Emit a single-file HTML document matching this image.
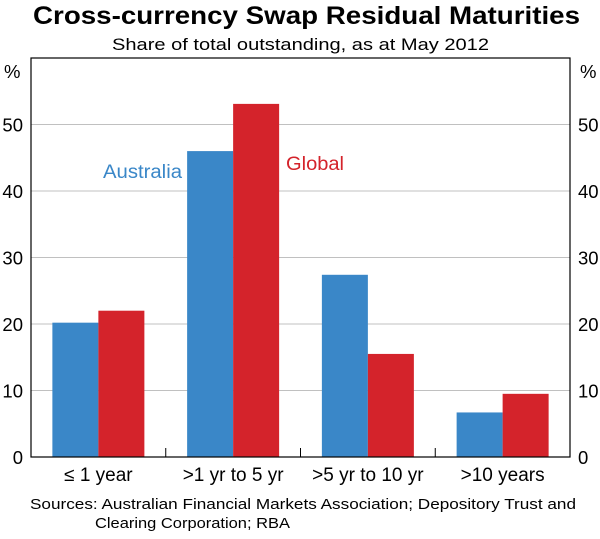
<!DOCTYPE html>
<html><head><meta charset="utf-8"><style>
body{margin:0;background:#fff;width:600px;height:534px;overflow:hidden;font-family:"Liberation Sans",Arial,sans-serif}
</style></head><body>
<svg id="c" width="600" height="534" xmlns="http://www.w3.org/2000/svg" font-family="Liberation Sans, Arial, sans-serif">
<text x="33" y="24" font-size="25" font-weight="bold" fill="#000" textLength="547" lengthAdjust="spacingAndGlyphs">Cross-currency Swap Residual Maturities</text>
<text x="112" y="50" font-size="17" fill="#000" textLength="377" lengthAdjust="spacingAndGlyphs">Share of total outstanding, as at May 2012</text>
<g id="grid"></g><g id="bars"></g><g id="axes"></g>
<text x="103" y="178" font-size="19" fill="#3a87c8" textLength="79" lengthAdjust="spacingAndGlyphs">Australia</text>
<text x="286" y="170" font-size="19" fill="#d4232b" textLength="58" lengthAdjust="spacingAndGlyphs">Global</text>
<text x="30" y="509" font-size="15" fill="#000" textLength="546" lengthAdjust="spacingAndGlyphs">Sources: Australian Financial Markets Association; Depository Trust and</text>
<text x="95" y="528" font-size="15" fill="#000" textLength="195" lengthAdjust="spacingAndGlyphs">Clearing Corporation; RBA</text>
</svg>
<script>
const categories=["\u2264 1 year",">1 yr to 5 yr",">5 yr to 10 yr",">10 years"];
const australia=[20.2,46,27.4,6.7];
const global=[22,53.1,15.5,9.5];
const yTicks=[0,10,20,30,40,50];
const L=31,R=570,T=58,B=457,yMax=60;
const ns="http://www.w3.org/2000/svg";
const y=v=>B-(v/yMax)*(B-T);
const gw=(R-L)/categories.length;
const cx=i=>L+gw*(i+0.5);
function mk(tag,attrs,parent,text){const e=document.createElementNS(ns,tag);for(const k in attrs)e.setAttribute(k,attrs[k]);if(text!==undefined)e.textContent=text;document.getElementById(parent).appendChild(e);return e;}
yTicks.forEach(v=>{
 if(v>0){const g=mk('line',{x1:L,x2:R,y1:y(v),y2:y(v),stroke:'#c0c0c0','stroke-width':1},'grid');
 
 }
 const t1=mk('text',{x:23,y:y(v)+7,'text-anchor':'end','font-size':18.5},'axes',v);
 
 
 const t2=mk('text',{x:578,y:y(v)+7,'font-size':18.5},'axes',v);
 
 
});
const p1=mk('text',{x:4,y:y(60)+20,'font-size':18.5},'axes','%');


const p2=mk('text',{x:580,y:y(60)+20,'font-size':18.5},'axes','%');


const bw=46;
categories.forEach((c,i)=>{
 const a=mk('rect',{x:cx(i)-bw,y:y(australia[i]),width:bw,height:B-y(australia[i]),fill:'#3a87c8'},'bars');
 
 
 const g=mk('rect',{x:cx(i),y:y(global[i]),width:bw,height:B-y(global[i]),fill:'#d4232b'},'bars');
 
 
 const t=mk('text',{x:cx(i),y:481,'text-anchor':'middle','font-size':19},'axes',c);
 
 
 if(i>0){const tk=mk('line',{x1:L+gw*i,x2:L+gw*i,y1:B-9,y2:B,stroke:'#000','stroke-width':1},'axes');
 
 }
});
const fr=mk('rect',{x:L,y:T,width:R-L,height:B-T,fill:'none',stroke:'#000','stroke-width':1.2},'axes');


</script>
</body></html>
